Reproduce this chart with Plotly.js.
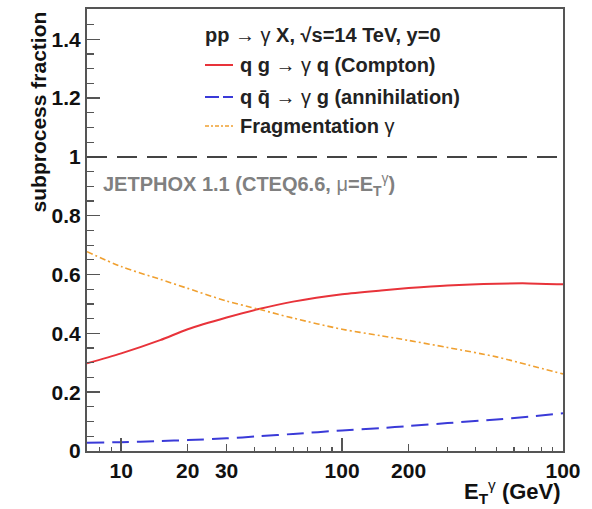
<!DOCTYPE html>
<html>
<head>
<meta charset="utf-8">
<script src="https://cdn.plot.ly/plotly-3.0.1.min.js"></script>
<style>html,body{margin:0;padding:0;background:#fff;}#chart{width:592px;height:509px;}</style>
</head>
<body>
<div id="chart"></div>
<script>
// ---- data ----
const etGamma = [7, 10, 15, 20, 30, 42, 60, 100, 150, 200, 300, 500, 700, 1000];
const compton = [0.298, 0.332, 0.377, 0.414, 0.454, 0.483, 0.508, 0.533, 0.546, 0.554, 0.563, 0.569, 0.570, 0.567];
const annihilation = [0.028, 0.030, 0.034, 0.037, 0.043, 0.050, 0.058, 0.070, 0.078, 0.085, 0.095, 0.107, 0.117, 0.128];
const fragmentation = [0.678, 0.627, 0.584, 0.553, 0.510, 0.482, 0.452, 0.414, 0.392, 0.376, 0.352, 0.320, 0.292, 0.262];
const unityLevel = 1;

const seriesNames = ['q g → γ q (Compton)', 'q q̄ → γ g (annihilation)', 'Fragmentation γ'];
const legendHeader = 'pp → γ X, √s=14 TeV, y=0';

const xTickVals = [10, 20, 30, 100, 200, 1000];
const xTickText = ["10", "20", "30", "100", "200", "100"];
const xMinorVals = [8, 9, 40, 50, 60, 70, 80, 90, 300, 400, 500, 600, 700, 800, 900];
const xMajorVals = [10, 100];
const yTickVals = [0, 0.2, 0.4, 0.6, 0.8, 1, 1.2, 1.4];

const FONT = "Liberation Sans, Arial, Helvetica, sans-serif";
const AX = "#555";
const colors = ['#e8333a', '#3a3ad8', '#f0a030'];
const dashes = ['solid', '17px,8px', '6px,3px,2px,3px'];
const widths = [2, 2, 1.6];
const ys = [compton, annihilation, fragmentation];

const traces = ys.map((y, i) => ({
  x: etGamma, y: y, type: 'scatter', mode: 'lines', name: seriesNames[i], showlegend: false,
  line: {color: colors[i], width: widths[i], dash: dashes[i], shape: 'spline', smoothing: 0.8}
}));
traces.push({x: [etGamma[0]], y: [compton[0]], xaxis: 'x2', yaxis: 'y', type: 'scatter', mode: 'none',
  showlegend: false, hoverinfo: 'skip'});

const xr = [Math.log10(7), 3];

// legend drawn by hand (paper coordinates)
const gam = s => s.replace(/γ/g, '</b><span style="font-weight:normal">γ</span><b>');
const legRowY = [0.8733, 0.8009, 0.7353];
const shapes = [
  {type: 'line', xref: 'paper', x0: 0, x1: 1, yref: 'y', y0: unityLevel, y1: unityLevel,
   line: {color: '#444', width: 2, dash: '20px,10px'}}
];
const annotations = [
  {text: '<b>' + gam(legendHeader) + '</b>', xref: 'paper', yref: 'paper', x: 0.2437, y: 0.9412,
   xanchor: 'left', yanchor: 'middle', showarrow: false, font: {size: 20, color: '#222', family: FONT}}
];
legRowY.forEach((yy, i) => {
  shapes.push({type: 'line', xref: 'paper', yref: 'paper', x0: 0.2479, x1: 0.3067, y0: yy, y1: yy,
    line: {color: colors[i], width: widths[i], dash: i === 1 ? '14px,4px' : (i === 2 ? '4px,2px,2px,2px' : 'solid')}});
  annotations.push({text: '<b>' + gam(seriesNames[i]) + '</b>', xref: 'paper', yref: 'paper', x: 0.3172, y: yy,
    xanchor: 'left', yanchor: 'middle', showarrow: false, font: {size: 20, color: '#222', family: FONT}});
});
annotations.push(
  {text: '<b>JETPHOX 1.1 (CTEQ6.6, </b>μ<b>=E</b><sub><b>T</b></sub><sup>γ</sup><b>)</b>', xref: 'paper', yref: 'paper',
   x: 0.03, y: 0.604, xanchor: 'left', yanchor: 'middle', showarrow: false,
   font: {size: 20, color: '#808080', family: FONT}},
  {text: '<b>E</b><sub><b>T</b></sub><sup>γ</sup><b> (GeV)</b>', xref: 'paper', yref: 'paper',
   x: 1, y: -0.092, xanchor: 'right', yanchor: 'middle', showarrow: false,
   font: {size: 22, color: '#111', family: FONT}},
  {text: '<b>subprocess fraction</b>', xref: 'paper', yref: 'paper', textangle: -90,
   x: -0.101, y: 1, xanchor: 'center', yanchor: 'top', showarrow: false,
   font: {size: 21, color: '#111', family: FONT}}
);

const layout = {
  width: 592, height: 509,
  margin: {l: 87, r: 29, t: 9, b: 58},
  paper_bgcolor: '#fff', plot_bgcolor: '#fff',
  font: {family: FONT, color: '#111'},
  showlegend: false,
  xaxis: {type: 'log', range: xr, showgrid: false, zeroline: false, automargin: false,
    showline: true, linecolor: AX, linewidth: 2, mirror: true,
    ticks: 'inside', ticklen: 7, tickwidth: 1.5, tickcolor: AX, tickangle: 0,
    tickmode: 'array', tickvals: xTickVals, ticktext: xTickText,
    tickfont: {size: 21, weight: 700, family: FONT, color: '#111'},
    minor: {tickmode: 'array', tickvals: xMinorVals, ticks: 'inside', ticklen: 4, tickwidth: 1.2, tickcolor: AX, showgrid: false}},
  xaxis2: {type: 'log', range: xr, overlaying: 'x', anchor: 'y', side: 'bottom', showgrid: false, zeroline: false,
    showline: false, ticks: 'inside', ticklen: 13, tickwidth: 1.5, tickcolor: AX, automargin: false,
    tickmode: 'array', tickvals: xMajorVals, showticklabels: false},
  yaxis: {range: [0, 1.503], showgrid: false, zeroline: false, automargin: false,
    showline: true, linecolor: AX, linewidth: 2, mirror: true,
    ticks: 'inside', ticklen: 13, tickwidth: 1.5, tickcolor: AX,
    tickmode: 'array', tickvals: yTickVals,
    tickfont: {size: 21, weight: 700, family: FONT, color: '#111'},
    minor: {dtick: 0.05, tick0: 0, ticks: 'inside', ticklen: 7, tickwidth: 1.2, tickcolor: AX, showgrid: false}},
  shapes: shapes,
  annotations: annotations
};

Plotly.newPlot('chart', traces, layout, {staticPlot: true, displayModeBar: false});
</script>
</body>
</html>
